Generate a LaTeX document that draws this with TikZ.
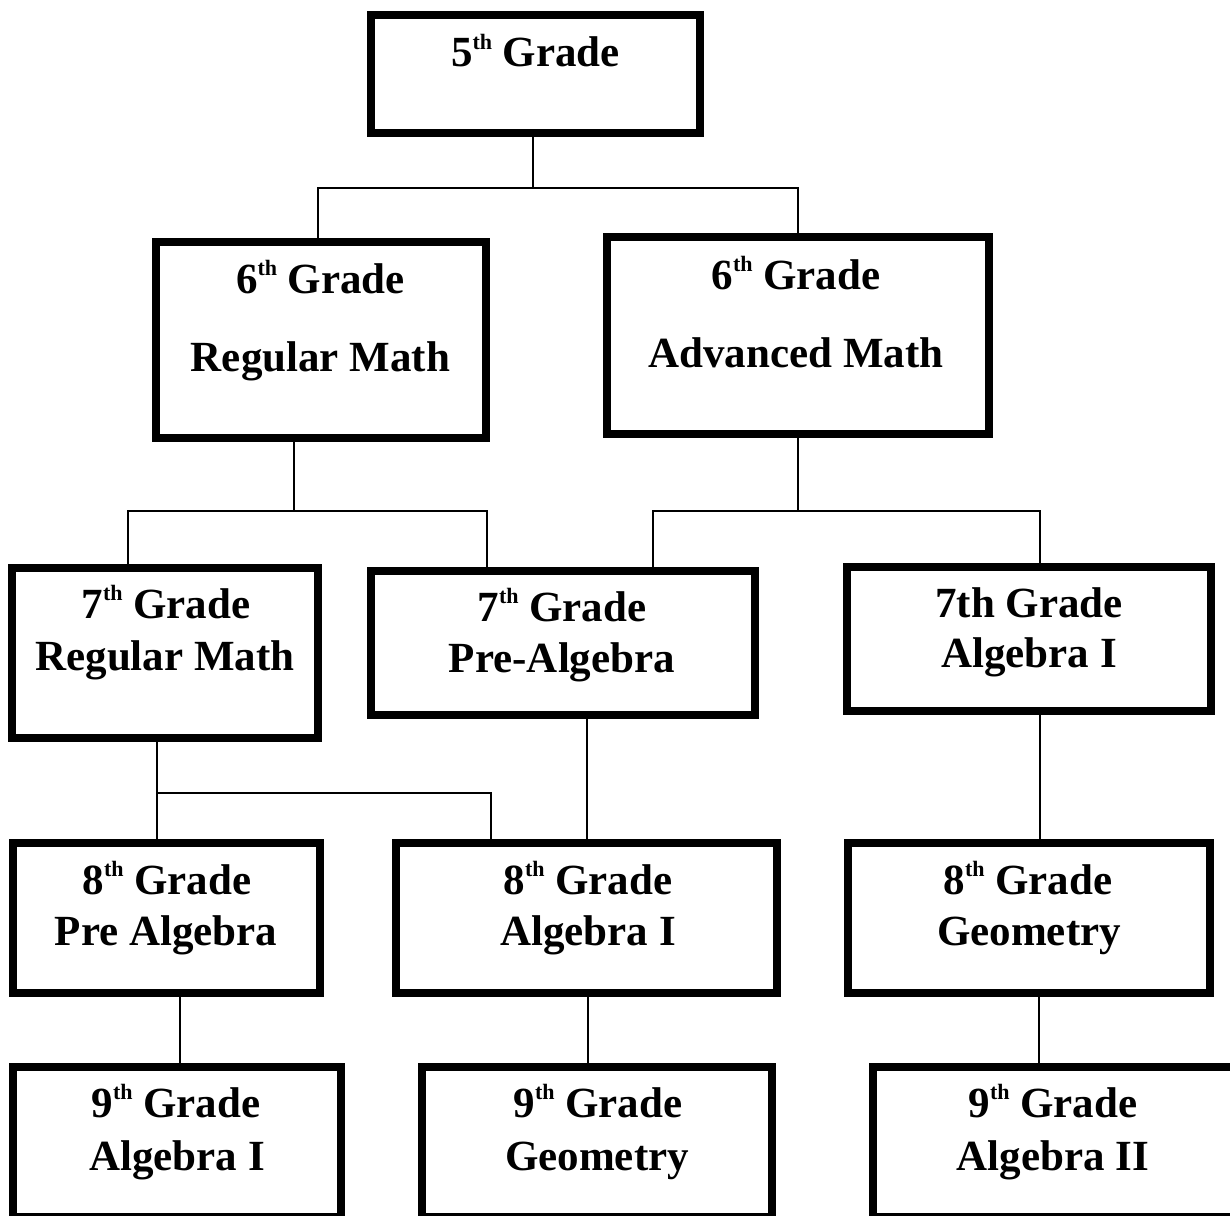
\documentclass[tikz,border=0pt]{standalone}
\usepackage{fontspec}
\setmainfont{Liberation Serif}
\newcommand\sups[1]{\raisebox{0.4em}{\fontsize{22}{22}\selectfont #1}}
\tikzset{
  box/.style={draw=black, line width=7.5pt, rectangle, inner sep=0pt, fill=none},
  lbl/.style={anchor=base, inner sep=0pt, font=\fontsize{43}{43}\selectfont\bfseries},
  conn/.style={draw=black, line width=1.4pt}
}
\begin{document}
\begin{tikzpicture}[x=1pt,y=-1pt]
\useasboundingbox (0,0) rectangle (1230,1215);
\clip (0,0) rectangle (1230,1215);
\fill[white] (0,0) rectangle (1230,1215);

% boxes
\node[box, minimum width=329pt, minimum height=118pt] (b5)  at (535.5,74) {};
\node[box, minimum width=330pt, minimum height=196pt] (b6r) at (321,340) {};
\node[box, minimum width=382pt, minimum height=197pt] (b6a) at (798,335.5) {};
\node[box, minimum width=306pt, minimum height=170pt] (b7r) at (165,653) {};
\node[box, minimum width=384pt, minimum height=144pt] (b7p) at (563,643) {};
\node[box, minimum width=364pt, minimum height=144pt] (b7a) at (1029,639) {};
\node[box, minimum width=307pt, minimum height=150pt] (b8p) at (166.5,918) {};
\node[box, minimum width=381pt, minimum height=150pt] (b8a) at (586.5,918) {};
\node[box, minimum width=362pt, minimum height=150pt] (b8g) at (1029,918) {};
\node[box, minimum width=328pt, minimum height=150pt] (b9a) at (177,1142) {};
\node[box, minimum width=350pt, minimum height=150pt] (b9g) at (597,1142) {};
\node[box, minimum width=363pt, minimum height=150pt] (b9b) at (1054.5,1142) {};

% labels
\node[lbl] (t5a)  at (535.5,66.5) {5\sups{th} Grade};
\node[lbl] (t6ra) at (320.5,293) {6\sups{th} Grade};
\node[lbl] (t6rb) at (320.5,371) {Regular Math};
\node[lbl] (t6aa) at (796,289) {6\sups{th} Grade};
\node[lbl] (t6ab) at (796,367) {Advanced Math};
\node[lbl] (t7ra) at (166,618) {7\sups{th} Grade};
\node[lbl] (t7rb) at (165,670) {Regular Math};
\node[lbl] (t7pa) at (562,621) {7\sups{th} Grade};
\node[lbl] (t7pb) at (562,672) {Pre-Algebra};
\node[lbl] (t7aa) at (1029,617) {7th Grade};
\node[lbl] (t7ab) at (1029,667) {Algebra I};
\node[lbl] (t8pa) at (167,894) {8\sups{th} Grade};
\node[lbl] (t8pb) at (166,945) {Pre Algebra};
\node[lbl] (t8aa) at (588,894) {8\sups{th} Grade};
\node[lbl] (t8ab) at (588,945) {Algebra I};
\node[lbl] (t8ga) at (1028,894) {8\sups{th} Grade};
\node[lbl] (t8gb) at (1029,945) {Geometry};
\node[lbl] (t9aa) at (176,1117) {9\sups{th} Grade};
\node[lbl] (t9ab) at (177,1170) {Algebra I};
\node[lbl] (t9ga) at (598,1117) {9\sups{th} Grade};
\node[lbl] (t9gb) at (597,1170) {Geometry};
\node[lbl] (t9ba) at (1053,1117) {9\sups{th} Grade};
\node[lbl] (t9bb) at (1053,1170) {Algebra II};

% junctions
\coordinate (j5)  at (533,188);
\coordinate (j6r) at (294,511);
\coordinate (j6a) at (798,511);
\coordinate (j7r) at (157,793);

% connectors
\draw[conn] (b5.south -| j5) -- (j5) -| ([xshift=-3pt]b6r.north);
\draw[conn] (j5) -| (b6a.north);
\draw[conn] (b6r.south -| j6r) -- (j6r) -| ([xshift=-37pt]b7r.north);
\draw[conn] (j6r) -| ([xshift=-76pt]b7p.north);
\draw[conn] (b6a.south -| j6a) -- (j6a) -| ([xshift=90pt]b7p.north);
\draw[conn] (j6a) -| ([xshift=11pt]b7a.north);
\draw[conn] (b7r.south -| j7r) -- (j7r) -- (b8p.north -| j7r);
\draw[conn] (j7r) -| ([xshift=-95.5pt]b8a.north);
\draw[conn] ([xshift=24pt]b7p.south) -- ([xshift=24pt]b7p.south |- b8a.north);
\draw[conn] ([xshift=11pt]b7a.south) -- ([xshift=11pt]b7a.south |- b8g.north);
\draw[conn] ([xshift=13.5pt]b8p.south) -- ([xshift=13.5pt]b8p.south |- b9a.north);
\draw[conn] ([xshift=1.5pt]b8a.south) -- ([xshift=1.5pt]b8a.south |- b9g.north);
\draw[conn] ([xshift=10pt]b8g.south) -- ([xshift=10pt]b8g.south |- b9b.north);
\end{tikzpicture}
\end{document}
